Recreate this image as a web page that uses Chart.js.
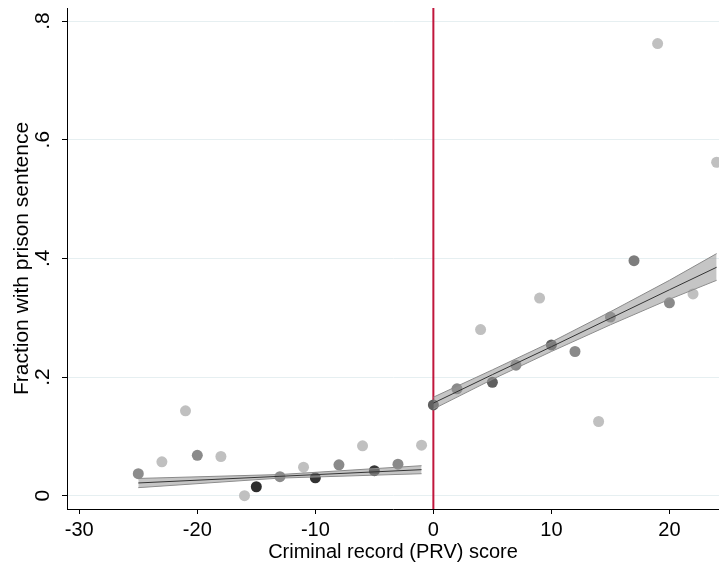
<!DOCTYPE html>
<html>
<head>
<meta charset="utf-8">
<script src="https://cdn.jsdelivr.net/npm/chart.js@4.4.1/dist/chart.umd.min.js"></script>
<style>
  html, body { margin: 0; padding: 0; background: #fff; }
  #wrap { width: 719px; height: 569px; }
</style>
</head>
<body>
<div id="wrap"><canvas id="chart"></canvas></div>
<script>
(function () {
  'use strict';

  // binned means: PRV score -> share sentenced to prison
  var SCORES = [-25, -23, -21, -20, -18, -16, -15, -13, -11, -10, -8, -6, -5, -3, -1,
                0, 2, 4, 5, 7, 9, 10, 12, 14, 15, 17, 19, 20, 22, 24];
  var SHARES = [0.037, 0.057, 0.143, 0.068, 0.066, 0.000, 0.015, 0.032, 0.048, 0.030, 0.052, 0.084, 0.042, 0.053, 0.085,
                0.153, 0.180, 0.280, 0.191, 0.220, 0.333, 0.254, 0.243, 0.125, 0.301, 0.396, 0.762, 0.325, 0.340, 0.562];
  // marker grey level for each bin (darker = more cases)
  var SHADES = [140, 192, 192, 138, 192, 192, 45, 140, 192, 50, 138, 192, 55, 138, 192,
                95, 138, 192, 95, 138, 192, 95, 138, 192, 138, 125, 192, 138, 192, 192];

  // linear fits with 95% CI, each side of the cutoff
  var LEFT_X = [-25, -13, -1];
  var LEFT_FIT = [0.0214, 0.0326, 0.0438];
  var LEFT_LO = [0.0135, 0.0296, 0.0370];
  var LEFT_HI = [0.0290, 0.0356, 0.0505];

  var RIGHT_X = [0, 5, 10, 15, 20, 24];
  var RIGHT_FIT = [0.156, 0.204, 0.251, 0.299, 0.347, 0.385];
  var RIGHT_LO = [0.146, 0.196, 0.243, 0.288, 0.331, 0.363];
  var RIGHT_HI = [0.166, 0.212, 0.259, 0.310, 0.363, 0.408];

  var CUTOFF = 0;
  var XMIN = -31.04, XMAX = 24.2;
  var YMIN = -0.0225, YMAX = 0.822;
  var XTICKS = [-30, -20, -10, 0, 10, 20];
  var YTICKS = [0, 0.2, 0.4, 0.6, 0.8];

  var FONT = "'Liberation Sans', Arial, sans-serif";

  function pts(xs, ys) {
    return xs.map(function (x, i) { return { x: x, y: ys[i] }; });
  }

  function grey(v) { return 'rgb(' + v + ',' + v + ',' + v + ')'; }

  function bandSet(ys, fill) {
    return { type: 'line', data: ys, borderColor: '#8a8a8a', borderWidth: 1, pointRadius: 0,
      fill: fill, backgroundColor: 'rgba(150,150,150,0.55)', order: 3 };
  }

  function fitSet(ys) {
    return { type: 'line', data: ys, borderColor: '#333', borderWidth: 1, pointRadius: 0, fill: false, order: 2 };
  }

  // stop the scales from reserving room for label overhang
  function noPad(s) {
    s.paddingTop = 0; s.paddingBottom = 0; s.paddingLeft = 0; s.paddingRight = 0;
  }

  var datasets = [
    { type: 'line', data: [{ x: CUTOFF, y: YMIN }, { x: CUTOFF, y: YMAX }], borderColor: '#c1163c',
      borderWidth: 2, pointRadius: 0, fill: false, order: 5 },
    { type: 'scatter', data: pts(SCORES, SHARES), pointRadius: 5.5, pointBorderWidth: 0,
      pointBackgroundColor: SHADES.map(grey), order: 4 },
    bandSet(pts(LEFT_X, LEFT_HI), '+1'),
    bandSet(pts(LEFT_X, LEFT_LO), false),
    fitSet(pts(LEFT_X, LEFT_FIT)),
    bandSet(pts(RIGHT_X, RIGHT_HI), '+1'),
    bandSet(pts(RIGHT_X, RIGHT_LO), false),
    fitSet(pts(RIGHT_X, RIGHT_FIT))
  ];

  new Chart(document.getElementById('chart'), {
    type: 'scatter',
    data: { datasets: datasets },
    options: {
      responsive: true,
      maintainAspectRatio: false,
      animation: false,
      layout: { autoPadding: false, padding: { top: 8, right: 0, bottom: 0, left: 0 } },
      plugins: { legend: { display: false }, tooltip: { enabled: false } },
      scales: {
        x: {
          type: 'linear', min: XMIN, max: XMAX,
          afterBuildTicks: function (s) { s.ticks = XTICKS.map(function (v) { return { value: v }; }); },
          afterFit: function (s) { s.height = 60; noPad(s); },
          ticks: { color: '#000', padding: 4, font: { family: FONT, size: 20 },
            callback: function (v) { return String(v); } },
          grid: { drawOnChartArea: false, tickColor: '#000', tickLength: 5 },
          border: { color: '#000', width: 1 },
          title: { display: true, text: 'Criminal record (PRV) score', color: '#000',
            font: { family: FONT, size: 20 }, padding: { top: 0, bottom: 5 } }
        },
        y: {
          type: 'linear', min: YMIN, max: YMAX,
          afterBuildTicks: function (s) { s.ticks = YTICKS.map(function (v) { return { value: v }; }); },
          afterFit: function (s) { s.width = 67; noPad(s); },
          ticks: { color: '#000', padding: 10, minRotation: 90, maxRotation: 90, crossAlign: 'center',
            font: { family: FONT, size: 21 },
            callback: function (v) { return v === 0 ? '0' : String(+v.toFixed(1)).replace(/^0/, ''); } },
          grid: { color: '#e6eff1', tickColor: '#000', tickLength: 5 },
          border: { color: '#000', width: 1 },
          title: { display: true, text: 'Fraction with prison sentence', color: '#000',
            font: { family: FONT, size: 21 }, padding: { top: 10, bottom: 0 } }
        }
      }
    }
  });
})();
</script>
</body>
</html>
